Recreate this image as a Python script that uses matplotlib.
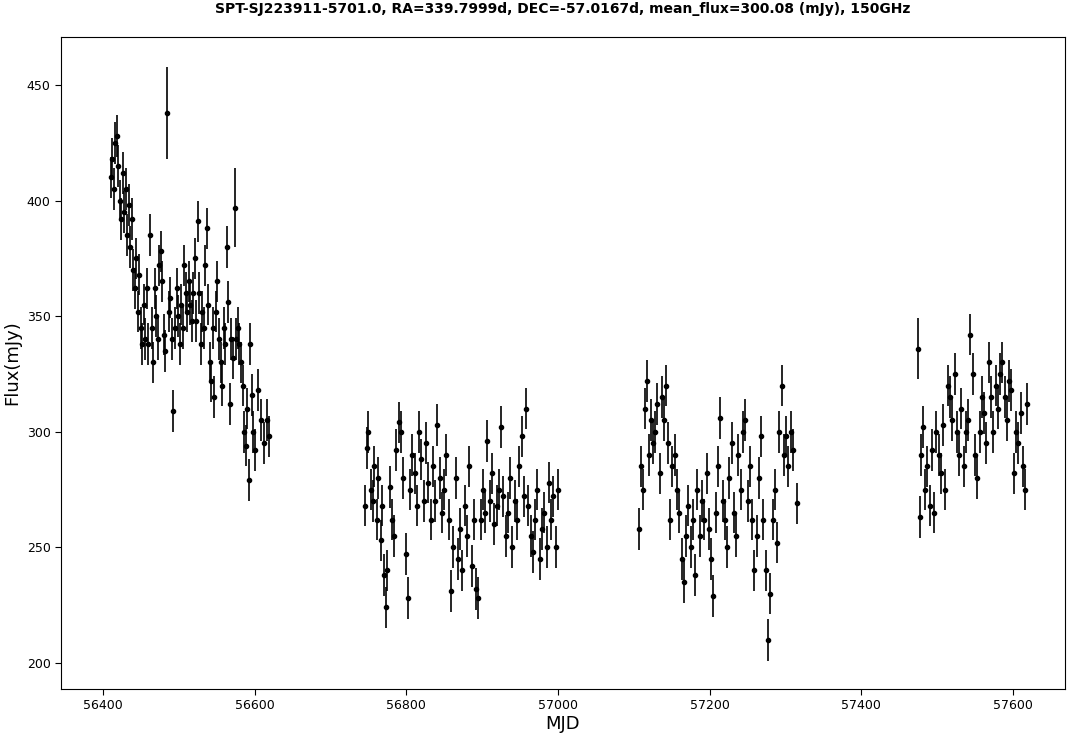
import matplotlib
matplotlib.use("Agg")
import matplotlib.pyplot as plt
import numpy as np

# season 1
mjd1 = [56410, 56412, 56414, 56416, 56418, 56420, 56422, 56424, 56426, 56428, 56430, 56432, 56434, 56436,
        56438, 56440, 56442, 56444, 56446, 56448, 56450, 56452, 56454, 56456, 56458, 56460, 56462, 56464,
        56466, 56468, 56470, 56472, 56474, 56476, 56478, 56480, 56482, 56485, 56487, 56489, 56491, 56493,
        56495, 56497, 56499, 56501, 56503, 56505, 56507, 56509, 56511, 56513, 56515, 56517, 56519, 56521,
        56523, 56525, 56527, 56529, 56531, 56533, 56535, 56537, 56539, 56541, 56543, 56545, 56547, 56549,
        56551, 56553, 56555, 56557, 56559, 56561, 56563, 56565, 56567, 56569, 56571, 56574, 56576, 56578,
        56580, 56582, 56584, 56586, 56588, 56590, 56592, 56594, 56596, 56598, 56600, 56604, 56608, 56612,
        56616, 56619]
flux1 = [410, 418, 405, 425, 428, 415, 400, 392, 412, 395, 405, 385, 398, 380,
         392, 370, 362, 375, 352, 368, 345, 338, 355, 340, 362, 338, 385, 345,
         330, 362, 350, 340, 372, 378, 365, 342, 335, 438, 352, 358, 340, 309,
         345, 362, 350, 338, 355, 345, 372, 360, 352, 365, 355, 348, 360, 375,
         348, 391, 360, 338, 352, 345, 372, 388, 355, 330, 322, 345, 315, 352,
         365, 340, 330, 320, 345, 338, 380, 356, 312, 340, 332, 397, 340, 345,
         338, 330, 320, 300, 294, 310, 279, 338, 316, 300, 292, 318, 305, 295,
         305, 298]
# season 2
mjd2 = [56745, 56748, 56750, 56753, 56756, 56758, 56761, 56763, 56766, 56768, 56771, 56773, 56775, 56778,
        56781, 56784, 56787, 56790, 56793, 56796, 56799, 56802, 56805, 56808, 56811, 56814, 56817, 56820,
        56823, 56826, 56829, 56832, 56835, 56838, 56841, 56844, 56847, 56850, 56853, 56856, 56859, 56862,
        56865, 56868, 56871, 56874, 56877, 56880, 56883, 56886, 56889, 56892, 56895, 56898, 56901, 56904,
        56907, 56910, 56913, 56916, 56919, 56922, 56925, 56928, 56931, 56934, 56937, 56940, 56943, 56946,
        56949, 56952, 56955, 56958, 56961, 56964, 56967, 56970, 56973, 56976, 56979, 56982, 56985, 56988,
        56991, 56994, 56997, 57000]
flux2 = [268, 293, 300, 275, 270, 285, 262, 280, 253, 268, 238, 224, 240, 276,
         262, 255, 292, 304, 300, 280, 247, 228, 275, 290, 282, 268, 300, 288,
         270, 295, 278, 262, 285, 270, 303, 280, 265, 275, 290, 262, 231, 250,
         280, 245, 258, 240, 268, 255, 285, 242, 262, 232, 228, 262, 275, 265,
         296, 270, 282, 260, 268, 275, 302, 272, 255, 265, 280, 250, 270, 262,
         285, 298, 272, 310, 268, 255, 248, 262, 275, 245, 258, 265, 250, 278,
         262, 272, 250, 275]
# season 3
mjd3 = [57107, 57110, 57112, 57115, 57117, 57120, 57123, 57125, 57128, 57131, 57134, 57137, 57140, 57143,
        57145, 57148, 57151, 57154, 57157, 57160, 57163, 57166, 57169, 57172, 57175, 57178, 57181, 57184,
        57187, 57190, 57193, 57196, 57199, 57202, 57205, 57208, 57211, 57214, 57217, 57220, 57223, 57226,
        57229, 57232, 57235, 57238, 57241, 57244, 57247, 57250, 57253, 57256, 57259, 57262, 57265, 57268,
        57271, 57274, 57277, 57280, 57283, 57286, 57289, 57292, 57295, 57298, 57301, 57304, 57307, 57310,
        57315]
flux3 = [258, 285, 275, 310, 322, 290, 305, 295, 300, 312, 282, 315, 305, 320,
         295, 262, 285, 290, 275, 265, 245, 235, 255, 268, 250, 262, 238, 275,
         255, 270, 262, 282, 258, 245, 229, 265, 285, 306, 270, 262, 250, 280,
         295, 265, 255, 290, 275, 300, 305, 270, 285, 262, 240, 255, 280, 298,
         262, 240, 210, 230, 262, 275, 252, 300, 320, 290, 298, 285, 300, 292,
         269]
# season 4
mjd4 = [57475, 57477, 57479, 57481, 57484, 57487, 57490, 57493, 57496, 57499, 57502, 57505, 57508, 57511,
        57514, 57517, 57520, 57523, 57526, 57529, 57532, 57535, 57538, 57541, 57544, 57547, 57550, 57553,
        57556, 57559, 57562, 57565, 57568, 57571, 57574, 57577, 57580, 57583, 57586, 57589, 57592, 57595,
        57598, 57601, 57604, 57607, 57610, 57613, 57616, 57619]
flux4 = [336, 263, 290, 302, 275, 285, 268, 292, 265, 300, 290, 282, 303, 275,
         320, 315, 305, 325, 300, 290, 310, 285, 300, 305, 342, 325, 290, 280,
         300, 315, 308, 295, 330, 315, 300, 320, 310, 325, 330, 315, 305, 322,
         318, 282, 300, 295, 308, 285, 275, 312]

mjd = np.array(mjd1 + mjd2 + mjd3 + mjd4)
flux = np.array(flux1 + flux2 + flux3 + flux4)
err = np.full(len(flux), 9.0)
err[flux == 438] = 20.0
err[flux == 397] = 17.0
err[flux == 336] = 13.0

fig, ax = plt.subplots(figsize=(10.79, 7.39), dpi=100)
ax.errorbar(mjd, flux, yerr=err, fmt="o", color="black", ms=3, elinewidth=1.2, capsize=0)
ax.set_xlim(56344.6, 57668.6)
ax.set_ylim(188.8, 470.8)
ax.set_xlabel("MJD", fontsize=13, labelpad=2)
ax.set_ylabel("Flux(mJy)", fontsize=13)
ax.set_title("SPT-SJ223911-5701.0, RA=339.7999d, DEC=-57.0167d, mean_flux=300.08 (mJy), 150GHz",
             fontsize=10, fontweight="bold", pad=17)
ax.tick_params(labelsize=9, length=4)
fig.subplots_adjust(left=0.0565, right=0.987, top=0.95, bottom=0.068)
fig.savefig("out.png", dpi=100)
